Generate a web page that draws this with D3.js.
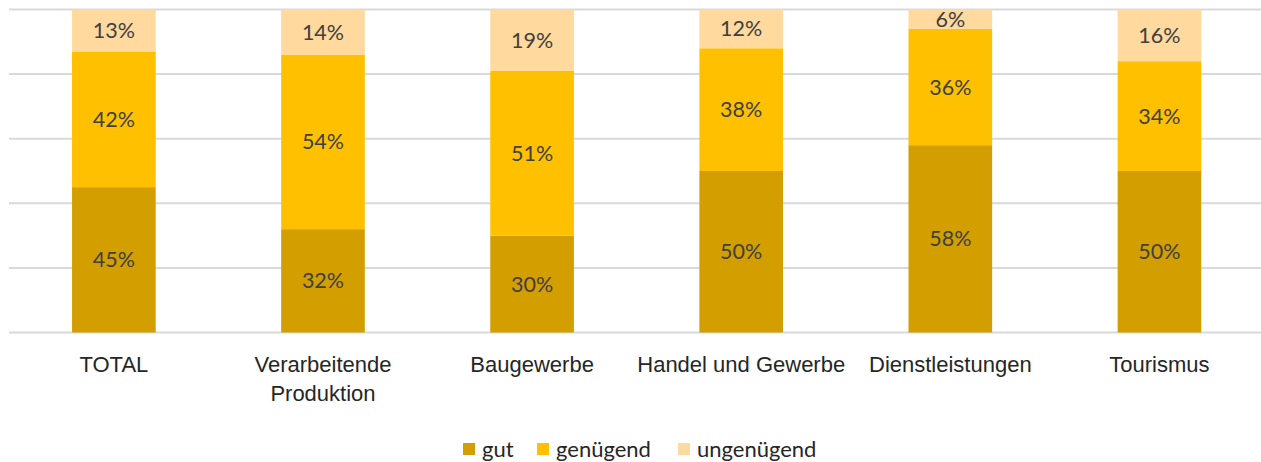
<!DOCTYPE html>
<html><head><meta charset="utf-8">
<script src="https://cdn.jsdelivr.net/npm/d3@7"></script>
<style>
html,body{margin:0;padding:0;background:#fff;}
svg{display:block;font-family:Lato,"Open Sans",sans-serif;}
</style></head>
<body>
<svg id="chart" width="1261" height="462"></svg>
<script>
const categories = ["TOTAL", "Verarbeitende Produktion", "Baugewerbe", "Handel und Gewerbe", "Dienstleistungen", "Tourismus"];
const categoryLines = [["TOTAL"], ["Verarbeitende", "Produktion"], ["Baugewerbe"], ["Handel und Gewerbe"], ["Dienstleistungen"], ["Tourismus"]];
const seriesNames = ["gut", "genügend", "ungenügend"];
const gut = [45, 32, 30, 50, 58, 50];
const genuegend = [42, 54, 51, 38, 36, 34];
const ungenuegend = [13, 14, 19, 12, 6, 16];
const yTicks = [0, 20, 40, 60, 80, 100];
const colors = ["#D29E00", "#FFC000", "#FFD99E"];

const seriesValues = [gut, genuegend, ungenuegend];
const rows = categories.map((c, i) => {
  const r = {cat: c};
  seriesNames.forEach((s, k) => r[s] = seriesValues[k][i]);
  return r;
});

const svg = d3.select("#chart");
const x = d3.scaleBand().domain(categories).range([9.3, 1264]).paddingInner(0.6).paddingOuter(0.3);
const y = d3.scaleLinear().domain([0, 100]).range([332.5, 9.5]);

// gridlines
svg.append("g").selectAll("line").data(yTicks).join("line")
  .attr("x1", 9).attr("x2", 1261)
  .attr("y1", d => y(d)).attr("y2", d => y(d))
  .attr("stroke", "#d9d9d9").attr("stroke-width", 2);

const stack = d3.stack().keys(seriesNames);
const stacked = stack(rows);

const g = svg.append("g");
stacked.forEach((layer, k) => {
  g.append("g").selectAll("rect").data(layer).join("rect")
    .attr("x", d => x(d.data.cat))
    .attr("width", x.bandwidth())
    .attr("y", d => y(d[1]))
    .attr("height", d => y(d[0]) - y(d[1]))
    .attr("fill", colors[k]);
  g.append("g").selectAll("text").data(layer).join("text")
    .attr("x", d => x(d.data.cat) + x.bandwidth() / 2)
    .attr("y", d => (y(d[0]) + y(d[1])) / 2)
    .attr("dy", "0.35em")
    .attr("text-anchor", "middle")
    .attr("font-size", 21.5)
    .attr("fill", "#404040")
    .text(d => (d[1] - d[0]) + "%");
});

// category labels (axis)
const xAxis = d3.axisBottom(x).tickSize(0).tickFormat("");
const ax = svg.append("g").attr("transform", "translate(0,332.5)").call(xAxis);
ax.select(".domain").remove();
ax.selectAll(".tick").each(function(d, i) {
  const t = d3.select(this).append("text")
    .attr("text-anchor", "middle")
    .attr("font-size", 22)
    .attr("fill", "#262626");
  categoryLines[i].forEach((line, j) => {
    t.append("tspan").attr("x", 0).attr("y", 39.5 + j * 29).text(line);
  });
});

// legend
const legendX = [463, 537, 678];
const lg = svg.append("g");
seriesNames.forEach((s, k) => {
  lg.append("rect").attr("x", legendX[k]).attr("y", 443).attr("width", 12).attr("height", 12).attr("fill", colors[k]);
  lg.append("text").attr("x", legendX[k] + 19).attr("y", 449).attr("dy", "0.35em")
    .attr("font-size", 22).attr("fill", "#262626").text(s);
});
</script>
</body></html>
